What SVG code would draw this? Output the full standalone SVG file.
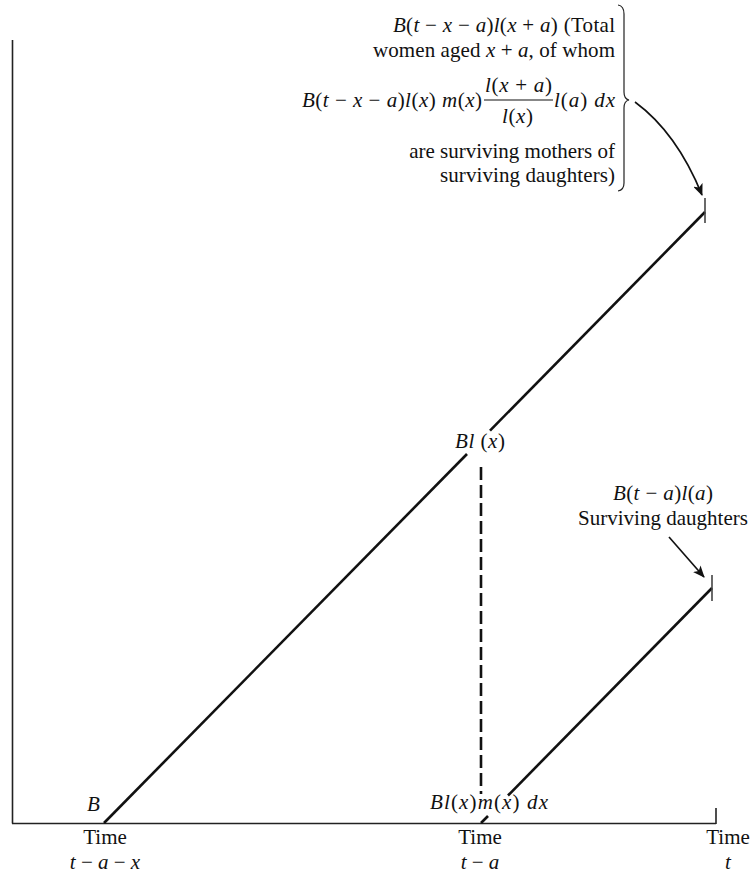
<svg xmlns="http://www.w3.org/2000/svg" width="750" height="878" viewBox="0 0 750 878">
<style>
text{font-family:"Liberation Serif","Times New Roman",serif;font-size:21px;fill:#111}
.i{font-style:italic}
.ax{stroke:#222;stroke-width:1.6;fill:none}
.ln{stroke:#111;stroke-width:2.6;fill:none}
.tk{stroke:#444;stroke-width:1.6;fill:none}
.ar{stroke:#111;stroke-width:1.6;fill:none}
</style>
<defs>
<marker id="ah" viewBox="0 0 12 10" refX="11" refY="5" markerWidth="12" markerHeight="10" markerUnits="userSpaceOnUse" orient="auto">
<path d="M0,0 L12,5 L0,10 L3,5 Z" fill="#111"/>
</marker>
</defs>
<g id="axes">
<line class="ax" x1="12.5" y1="40" x2="12.5" y2="823.5"/>
<line class="ax" x1="12" y1="823.5" x2="716" y2="823.5"/>
<line class="ax" x1="716" y1="808" x2="716" y2="824"/>
</g>
<g id="connectors">
<line class="ln" x1="104" y1="823" x2="467" y2="454"/>
<line class="ln" x1="490" y1="430.6" x2="705" y2="212"/>
<line class="tk" x1="705" y1="198" x2="705" y2="223"/>
<line class="ln" x1="481" y1="467" x2="481" y2="794" stroke-dasharray="13 5"/>
<line class="ln" x1="481" y1="823" x2="488" y2="816"/>
<line class="ln" x1="508" y1="795.5" x2="712" y2="588"/>
<line class="tk" x1="712" y1="575" x2="712" y2="601"/>
<path class="ar" d="M635,102 Q677,133 702,195" marker-end="url(#ah)"/>
<line class="ar" x1="669" y1="537" x2="704" y2="577" marker-end="url(#ah)"/>
</g>
<g id="top-label">
<text x="393" y="32" textLength="222" lengthAdjust="spacing"><tspan class="i">B</tspan>(<tspan class="i">t</tspan> − <tspan class="i">x</tspan> − <tspan class="i">a</tspan>)<tspan class="i">l</tspan>(<tspan class="i">x</tspan> + <tspan class="i">a</tspan>) (Total</text>
<text x="373" y="57" textLength="242" lengthAdjust="spacing">women aged <tspan class="i">x</tspan> + <tspan class="i">a</tspan>, of whom</text>
<text x="302" y="107" textLength="180" lengthAdjust="spacing"><tspan class="i">B</tspan>(<tspan class="i">t</tspan> − <tspan class="i">x</tspan> − <tspan class="i">a</tspan>)<tspan class="i">l</tspan>(<tspan class="i">x</tspan>) <tspan class="i">m</tspan>(<tspan class="i">x</tspan>)</text>
<text x="485" y="92" textLength="67" lengthAdjust="spacing"><tspan class="i">l</tspan>(<tspan class="i">x</tspan> + <tspan class="i">a</tspan>)</text>
<line x1="484" y1="100" x2="553" y2="100" stroke="#111" stroke-width="1.2"/>
<text x="502" y="123" textLength="31" lengthAdjust="spacing"><tspan class="i">l</tspan>(<tspan class="i">x</tspan>)</text>
<text x="554" y="107" textLength="61" lengthAdjust="spacing"><tspan class="i">l</tspan>(<tspan class="i">a</tspan>) <tspan class="i">dx</tspan></text>
<text x="615" y="158" text-anchor="end">are surviving mothers of</text>
<text x="440" y="182" textLength="175" lengthAdjust="spacing">surviving daughters)</text>
<path d="M618,5 Q624,6 624,14 L624,92 Q624,99 629,100 Q624,101 624,108 L624,183 Q624,190 618,191" fill="none" stroke="#222" stroke-width="1.2"/>
</g>
<g id="bl-x"><text x="455" y="448" textLength="50" lengthAdjust="spacing"><tspan class="i">Bl</tspan> (<tspan class="i">x</tspan>)</text></g>
<g id="daughters">
<text x="613" y="500" textLength="100" lengthAdjust="spacing"><tspan class="i">B</tspan>(<tspan class="i">t</tspan> − <tspan class="i">a</tspan>)<tspan class="i">l</tspan>(<tspan class="i">a</tspan>)</text>
<text x="578" y="525" textLength="170" lengthAdjust="spacing">Surviving daughters</text>
</g>
<g id="b-label"><text x="87" y="811" class="i">B</text></g>
<g id="blmdx"><text x="430" y="809" textLength="118" lengthAdjust="spacing"><tspan class="i">Bl</tspan>(<tspan class="i">x</tspan>)<tspan class="i">m</tspan>(<tspan class="i">x</tspan>) <tspan class="i">dx</tspan></text></g>
<g id="time-labels">
<text x="105" y="844" text-anchor="middle">Time</text>
<text x="105" y="869" text-anchor="middle"><tspan class="i">t</tspan> − <tspan class="i">a</tspan> − <tspan class="i">x</tspan></text>
<text x="480" y="844" text-anchor="middle">Time</text>
<text x="480" y="869" text-anchor="middle"><tspan class="i">t</tspan> − <tspan class="i">a</tspan></text>
<text x="728" y="844" text-anchor="middle">Time</text>
<text x="728" y="869" text-anchor="middle" class="i">t</text>
</g>
</svg>
